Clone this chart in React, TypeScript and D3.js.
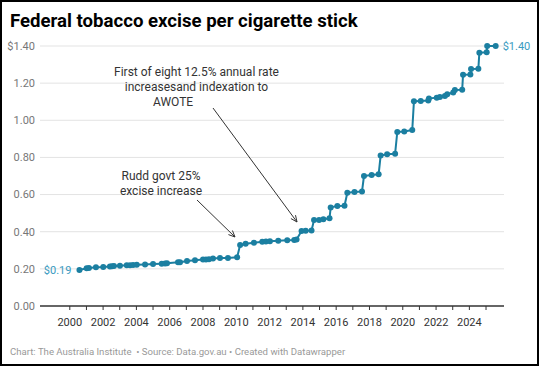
import React from "react";
import * as d3 from "d3";

const years: number[] = [
  2000.58, 2001.01, 2001.15, 2001.57, 2002.01, 2002.41, 2002.53, 2002.65, 2003.01,
  2003.42, 2003.62, 2003.8, 2004.02, 2004.52, 2005.0, 2005.52, 2005.72, 2005.84,
  2006.5, 2006.62, 2007.04, 2007.52, 2008.0, 2008.18, 2008.36, 2008.6, 2009.02,
  2009.5, 2010.05, 2010.23, 2010.56, 2011.06, 2011.56, 2011.78, 2012.02, 2012.52,
  2013.06, 2013.48, 2013.62, 2013.92, 2014.17, 2014.52, 2014.67, 2014.97, 2015.23,
  2015.6, 2015.67, 2016.07, 2016.5, 2016.67, 2017.1, 2017.55, 2017.67, 2018.13,
  2018.55, 2018.67, 2019.06, 2019.54, 2019.67, 2020.09, 2020.57, 2020.67, 2021.08,
  2021.53, 2021.57, 2022.04, 2022.23, 2022.53, 2022.67, 2023.03, 2023.13, 2023.57,
  2023.62, 2024.06, 2024.1, 2024.54, 2024.6, 2025.04, 2025.07, 2025.58,
];
const excise: number[] = [
  0.194, 0.203, 0.205, 0.208, 0.21, 0.213, 0.214, 0.215, 0.217,
  0.219, 0.22, 0.221, 0.222, 0.224, 0.226, 0.228, 0.229, 0.23,
  0.235, 0.236, 0.242, 0.246, 0.25, 0.251, 0.252, 0.256, 0.258,
  0.259, 0.262, 0.328, 0.335, 0.341, 0.346, 0.347, 0.348, 0.351,
  0.354, 0.356, 0.358, 0.404, 0.405, 0.407, 0.463, 0.463, 0.467,
  0.472, 0.531, 0.539, 0.54, 0.61, 0.614, 0.616, 0.7, 0.705,
  0.709, 0.81, 0.817, 0.82, 0.937, 0.94, 0.948, 1.102, 1.104,
  1.106, 1.117, 1.122, 1.125, 1.131, 1.14, 1.15, 1.163, 1.165,
  1.245, 1.247, 1.276, 1.278, 1.364, 1.366, 1.4, 1.4,
];
const yTicks: number[] = [0, 0.2, 0.4, 0.6, 0.8, 1.0, 1.2, 1.4];
const yTickLabels: string[] = ["0.00", "0.20", "0.40", "0.60", "0.80", "1.00", "1.20", "$1.40"];
const xTickYears: number[] = d3.range(2000, 2026);
const xLabelYears: number[] = d3.range(2000, 2025, 2);

const title = "Federal tobacco excise per cigarette stick";
const footer = "Chart: The Australia Institute \u00a0\u2022 Source: Data.gov.au \u2022 Created with Datawrapper";
const ruddNote: string[] = ["Rudd govt 25%", "excise increase"];
const awoteNote: string[] = ["First of eight 12.5% annual rate", "increasesand indexation to"];
const awoteLast = "AWOTE";

const W = 539;
const H = 366;
const FONT = "Roboto, 'Noto Sans', sans-serif";
const LINE = "#1b7fa1";
const LABEL = "#3a9bc1";

export default function App() {
  const x = d3.scaleLinear().domain([1998.21, 2026.08]).range([40, 504]);
  const y = d3.scaleLinear().domain([0, 1.4]).range([306, 46]);
  const pts = years.map((yr, i) => [yr, excise[i]] as [number, number]);
  const line = d3.line<[number, number]>().x((d) => x(d[0])).y((d) => y(d[1]));

  const first = pts[0];
  const last = pts[pts.length - 1];

  const arrow = (x1: number, y1: number, x2: number, y2: number, key: string) => {
    const ang = Math.atan2(y2 - y1, x2 - x1);
    const L = 7;
    const a1 = ang + Math.PI - 0.42;
    const a2 = ang + Math.PI + 0.42;
    return (
      <g key={key} stroke="#333" strokeWidth={1} fill="none">
        <line x1={x1} y1={y1} x2={x2} y2={y2} />
        <polyline
          points={`${x2 + L * Math.cos(a1)},${y2 + L * Math.sin(a1)} ${x2},${y2} ${x2 + L * Math.cos(a2)},${y2 + L * Math.sin(a2)}`}
        />
      </g>
    );
  };

  return (
    <svg
      width={W}
      height={H}
      style={{ position: "absolute", left: 0, top: 0, background: "#fff" }}
      fontFamily={FONT}
    >
      <rect x={1} y={1} width={W - 2} height={H - 2} fill="#fff" stroke="#000" strokeWidth={2} />
      <text x={10} y={26.5} fontSize={18.6} fontWeight={700} fill="#000">
        {title}
      </text>

      {yTicks.map((t, i) => (
        <g key={"y" + t}>
          {t !== 0 && (
            <line x1={40} x2={504} y1={y(t)} y2={y(t)} stroke="#e3e3e3" strokeWidth={1} />
          )}
          <text x={35} y={y(t)} dy="0.35em" textAnchor="end" fontSize={11} fill="#777">
            {yTickLabels[i]}
          </text>
        </g>
      ))}

      <line x1={40} x2={504} y1={y(0)} y2={y(0)} stroke="#333" strokeWidth={1.5} />
      {xTickYears.map((t) => (
        <line key={"xt" + t} x1={x(t)} x2={x(t)} y1={y(0)} y2={y(0) + 4} stroke="#333" strokeWidth={1} />
      ))}
      {xLabelYears.map((t) => (
        <text key={"xl" + t} x={x(t)} y={326} textAnchor="middle" fontSize={11} fill="#333">
          {t}
        </text>
      ))}

      <path d={line(pts) || ""} fill="none" stroke={LINE} strokeWidth={2} strokeLinejoin="round" />
      {pts.map((p, i) => (
        <circle key={"p" + i} cx={x(p[0])} cy={y(p[1])} r={3} fill={LINE} />
      ))}

      <text x={x(first[0]) - 8} y={y(first[1])} dy="0.35em" textAnchor="end" fontSize={11} fill={LABEL}>
        ${first[1].toFixed(2)}
      </text>
      <text x={x(last[0]) + 7} y={y(last[1])} dy="0.35em" textAnchor="start" fontSize={11} fill={LABEL}>
        ${last[1].toFixed(2)}
      </text>

      {ruddNote.map((s, i) => (
        <text key={"r" + i} x={161} y={180 + i * 15} textAnchor="middle" fontSize={12} fill="#333">
          {s}
        </text>
      ))}
      {arrow(197, 200, 235, 237, "a1")}

      {awoteNote.map((s, i) => (
        <text key={"a" + i} x={196.5} y={76 + i * 15} textAnchor="middle" fontSize={12} fill="#333">
          {s}
        </text>
      ))}
      <text x={153} y={106} textAnchor="start" fontSize={12} fill="#333">
        {awoteLast}
      </text>
      {arrow(213, 108, 297, 222, "a2")}

      <text x={10} y={355} fontSize={9.6} fill="#999">
        {footer}
      </text>
    </svg>
  );
}
